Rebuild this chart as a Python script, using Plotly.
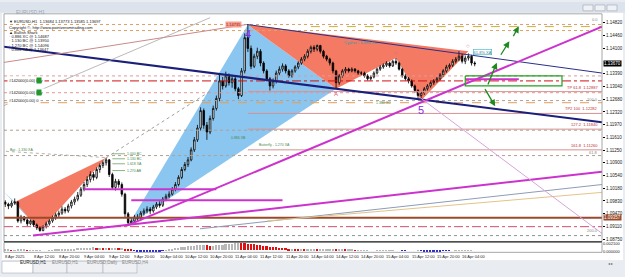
import plotly.graph_objects as go

W, H = 625, 277

# ---------------- data ----------------
bar_index = list(range(3, 153))
close = [1.0974,1.0969,1.0977,1.0980,1.0927,1.0938,1.0930,1.0919,1.0927,1.0916,1.0908,1.0900,1.0911,1.0919,1.0927,1.0936,1.0944,1.0949,1.0960,1.0955,1.0969,
         1.0980,1.0988,1.0999,1.1016,1.1029,1.1043,1.1057,1.1049,1.1071,1.1082,1.1090,1.1098,1.1057,1.1021,1.1038,1.1029,1.1002,1.0947,1.0922,1.0927,1.0938,1.0933,1.0949,1.0955,
         1.0960,1.0955,1.0966,1.0974,1.0971,1.0988,1.0996,1.1002,1.1016,1.1029,1.1049,1.1071,1.1085,1.1098,1.1126,1.1154,1.1187,1.1236,1.1195,1.1176,1.1214,1.1242,1.1270,1.1319,
         1.1305,1.1333,1.1314,1.1325,1.1297,1.1278,1.1347,1.1440,1.1410,1.1360,1.1388,1.1402,1.1369,1.1347,1.1325,1.1305,1.1319,1.1341,1.1352,1.1361,1.1347,1.1333,1.1347,1.1358,
         1.1369,1.1380,1.1388,1.1402,1.1413,1.1408,1.1418,1.1402,1.1388,1.1380,1.1369,1.1347,1.1314,1.1333,1.1347,1.1352,1.1347,1.1352,1.1347,1.1341,1.1341,1.1333,1.1325,1.1330,
         1.1341,1.1352,1.1358,1.1363,1.1369,1.1361,1.1374,1.1369,1.1352,1.1333,1.1325,1.1319,1.1305,1.1292,1.1278,1.1286,1.1297,1.1305,1.1314,1.1319,1.1325,1.1336,1.1347,1.1358,
         1.1363,1.1374,1.1380,1.1388,1.1374,1.1383,1.1388,1.1369,1.1367]
high = [1.0985,1.0978,1.0984,1.0990,1.0983,1.0944,1.0941,1.0934,1.0931,1.0930,1.0920,1.0912,1.0915,1.0925,1.0932,1.0942,1.0950,1.0956,1.0968,1.0966,1.0975,
        1.0986,1.0995,1.1008,1.1022,1.1036,1.1052,1.1066,1.1064,1.1077,1.1088,1.1096,1.1104,1.1100,1.1062,1.1045,1.1044,1.1035,1.1006,1.0952,1.0936,1.0944,1.0946,1.0955,1.0962,
        1.0968,1.0966,1.0972,1.0980,1.0982,1.0994,1.1003,1.1010,1.1022,1.1036,1.1055,1.1078,1.1092,1.1106,1.1133,1.1162,1.1196,1.1245,1.1242,1.1204,1.1222,1.1250,1.1278,1.1340,
        1.1330,1.1345,1.1340,1.1336,1.1330,1.1302,1.1355,1.1452,1.1476,1.1418,1.1395,1.1412,1.1408,1.1374,1.1352,1.1330,1.1326,1.1348,1.1360,1.1368,1.1366,1.1352,1.1352,1.1363,
        1.1374,1.1386,1.1394,1.1408,1.1418,1.1419,1.1421,1.1420,1.1406,1.1392,1.1384,1.1373,1.1350,1.1338,1.1352,1.1358,1.1356,1.1357,1.1355,1.1350,1.1346,1.1345,1.1338,1.1335,
        1.1346,1.1356,1.1363,1.1368,1.1374,1.1373,1.1378,1.1383,1.1373,1.1356,1.1338,1.1330,1.1323,1.1309,1.1296,1.1290,1.1302,1.1310,1.1318,1.1324,1.1330,1.1341,1.1352,1.1364,
        1.1368,1.1380,1.1386,1.1402,1.1395,1.1390,1.1396,1.1392,1.1374]
low = [1.0966,1.0960,1.0964,1.0972,1.0922,1.0920,1.0925,1.0913,1.0915,1.0910,1.0902,1.0897,1.0898,1.0906,1.0914,1.0922,1.0930,1.0938,1.0944,1.0948,1.0950,
       1.0962,1.0972,1.0982,1.0994,1.1010,1.1022,1.1035,1.1040,1.1044,1.1062,1.1075,1.1082,1.1050,1.1015,1.1012,1.1020,1.0995,1.0938,1.0914,1.0916,1.0922,1.0925,1.0928,1.0942,
       1.0948,1.0946,1.0950,1.0960,1.0964,1.0966,1.0982,1.0990,1.0998,1.1010,1.1024,1.1044,1.1066,1.1078,1.1094,1.1120,1.1148,1.1180,1.1185,1.1154,1.1170,1.1208,1.1236,1.1262,
       1.1295,1.1300,1.1306,1.1300,1.1290,1.1268,1.1274,1.1340,1.1400,1.1352,1.1355,1.1380,1.1360,1.1340,1.1318,1.1292,1.1298,1.1312,1.1335,1.1345,1.1340,1.1328,1.1328,1.1342,
       1.1352,1.1364,1.1374,1.1382,1.1396,1.1400,1.1402,1.1396,1.1382,1.1374,1.1362,1.1340,1.1297,1.1308,1.1328,1.1340,1.1342,1.1343,1.1342,1.1336,1.1335,1.1328,1.1320,1.1320,
       1.1326,1.1337,1.1347,1.1353,1.1358,1.1356,1.1358,1.1364,1.1348,1.1328,1.1320,1.1312,1.1300,1.1286,1.1270,1.1264,1.1280,1.1292,1.1300,1.1308,1.1314,1.1320,1.1330,1.1342,
       1.1352,1.1358,1.1368,1.1374,1.1368,1.1366,1.1376,1.1362,1.1360]
first_open = 1.0980
open_ = [first_open] + close[:-1]

osc = [0.0002,0.0002,0.0001,0.0001,0.0002,0.0002,0.0002,0.0001,0.0001,0.0001,0.0001,0.0001,0.0000,0.0000,0.0001,0.0001,0.0002,0.0002,0.0003,0.0003,
       0.0004,0.0005,0.0005,0.0006,0.0006,0.0007,0.0007,0.0008,0.0009,0.0008,0.0008,0.0007,0.0007,0.0006,0.0006,0.0007,0.0006,0.0006,0.0005,0.0004,
       0.0002,-0.0001,-0.0002,-0.0003,-0.0003,-0.0003,-0.0002,-0.0002,-0.0003,-0.0002,-0.0001,0.0001,0.0003,0.0005,0.0007,0.0008,0.0010,0.0011,0.0012,0.0013,
       0.0014,0.0015,0.0016,0.0016,0.0015,0.0014,0.0014,0.0015,0.0016,0.0016,0.0017,0.0017,0.0018,0.0020,0.0022,0.0021,0.0020,0.0019,0.0018,0.0017,
       0.0016,0.0015,0.0014,0.0012,0.0011,0.0010,0.0009,0.0008,0.0007,0.0006,0.0005,0.0005,0.0004,0.0003,0.0003,0.0002,0.0002,0.0003,0.0003,0.0002,
       0.0003,0.0003,0.0004,0.0004,0.0004,0.0003,0.0003,0.0003,0.0002,0.0002,0.0002,0.0001,0.0001,0.0001,0.0001,0.0001,0.0000,0.0000,0.0001,0.0001,
       0.0001,0.0001,0.0001,0.0001,0.0000,0.0000,-0.0001,-0.0001,0.0000,0.0000,0.0000,0.0001,-0.0001,-0.0002,-0.0002,-0.0002,-0.0002,-0.0002,-0.0002,-0.0001,
       -0.0001,-0.0001,0.0000,0.0001,0.0001,0.0001,0.0001,0.0001,0.0001,0.0000]

price_ticks = [1.14820,1.14460,1.14100,1.13390,1.13040,1.12680,1.12320,1.11970,
               1.11610,1.11250,1.10900,1.10540,1.10180,1.09830,1.09470,1.09110,1.08750]
time_tick_index = [3,12,20,28,36,44,52,60,68,76,84,92,100,108,116,124,132,140,148]
time_tick_text = ["8 Apr 2025","8 Apr 12:00","8 Apr 20:00","9 Apr 04:00","9 Apr 12:00","9 Apr 20:00",
                  "10 Apr 04:00","10 Apr 12:00","10 Apr 20:00","11 Apr 04:00","11 Apr 12:00","11 Apr 20:00",
                  "14 Apr 04:00","14 Apr 12:00","14 Apr 20:00","15 Apr 04:00","15 Apr 12:00","15 Apr 20:00","16 Apr 04:00"]

# harmonic pattern points (bar index, price)
right_x = [42, 80, 108, 127, 135, 150]
right_p = [1.0914, 1.1476, 1.1297, 1.1383, 1.1264, 1.1402]
left_x = [2.6, 6, 14, 35]
left_p = [1.1008, 1.0980, 1.0900, 1.1104]

# trend lines: (x0, p0, x1, p1, color, width, dash)
trend_lines = [
    (1.3, 1.1416, 192.4, 1.1203, "#1a1f7a", 2, "solid"),
    (79.7, 1.1477, 192.4, 1.1341, "#2a2f8a", 1, "solid"),
    (41.6, 1.0914, 192.4, 1.1471, "#cc33cc", 2, "solid"),
    (11.8, 1.0886, 192.4, 1.1065, "#cc33cc", 2, "solid"),
    (64.8, 1.0905, 192.4, 1.1029, "#8d9cb8", 1, "solid"),
    (86.1, 1.0927, 192.4, 1.1007, "#e3c488", 1, "solid"),
    (134.7, 1.1272, 192.4, 1.0892, "#d9a3dc", 1, "solid"),
    (1.3, 1.1369, 79.7, 1.1477, "#c98a8a", 1, "solid"),
    (35, 1.1104, 68, 1.1290, "#a0a0a0", 1, "dot"),
    (1.3, 1.1245, 68, 1.1496, "#a8a8a8", 0.8, "solid"),
    (1.3, 1.1123, 35.6, 1.1104, "#a0a0a0", 0.8, "dot"),
]
# horizontal levels: (price, x_start, x_end, color, width, dash)
h_levels = [
    (1.1319, 2.6, 192.4, "#d01010", 1, "dashdot"),
    (1.1333, 2.6, 192.4, "#e09a9a", 1, "dot"),
    (1.1286, 2.6, 192.4, "#e09a9a", 1, "dot"),
    (1.1477, 2.6, 192.4, "#e0a060", 1, "dot"),
    (1.1471, 100, 192.4, "#c8b040", 1, "dash"),
    (1.1460, 2.6, 192.4, "#e0a060", 1, "dot"),
    (1.1289, 80, 192.4, "#d89090", 1, "solid"),
    (1.1228, 80, 192.4, "#d89090", 1, "solid"),
    (1.1184, 80, 192.4, "#d89090", 1, "solid"),
    (1.1126, 80, 192.4, "#d89090", 1, "solid"),
    (1.1264, 2.6, 192.4, "#b0a090", 1, "dot"),
    (1.1258, 2.6, 192.4, "#e0a060", 1, "dash"),
    (1.1181, 2.6, 192.4, "#b0a090", 1, "dot"),
    (1.1110, 2.6, 192.4, "#b0a090", 1, "dot"),
    (1.0886, 2.6, 192.4, "#909090", 1, "dot"),
    (1.0936, 2.6, 192.4, "#9a4a2a", 2, "solid"),
    (1.0911, 2.6, 192.4, "#d05070", 1, "dashdot"),
    (1.1016, 28, 70, "#cc33cc", 2, "solid"),
    (1.0985, 43, 91, "#cc33cc", 2, "solid"),
    (1.1324, 149, 166, "#cc33cc", 2, "solid"),
]
# small level tags on the left pattern (bar index, price, text)
left_tags = [(37, 1.1115, "1.000 BC"), (37, 1.1101, "1.130 BC"), (37, 1.1087, "1.618 XA"), (37, 1.1068, "1.270 AB")]
fib_tags = [(1.1479, "0.0"), (1.1255, "100.0"), (1.1107, "61.8"), (1.0889, "200.0")]
pattern_notes = [(83, 1.1140, "Butterfly - 1.270 XA"), (74, 1.1160, "0.886 XB"), (120, 1.1256, "1.380 XC"),
                 (4, 1.1127, "Bat - 1.330 XA")]

# ---------------- figure ----------------
fig = go.Figure()

def px_x(x):
    return x / W

def px_y(y):
    return 1 - y / H

def poly_path(xs, ps):
    pts = ["%s%.4f,%.5f" % ("M" if k == 0 else "L", a, b) for k, (a, b) in enumerate(zip(xs, ps))]
    return " ".join(pts) + " Z"

shapes = []
shapes.append(dict(type="rect", xref="paper", yref="paper", x0=px_x(2), x1=px_x(623), y0=px_y(262), y1=px_y(11),
                   fillcolor="#ffffff", line=dict(width=0), layer="below"))
shapes.append(dict(type="path", xref="x", yref="y", layer="below", fillcolor="#8ac6f0", line=dict(width=0),
                   path=poly_path(right_x[0:3], right_p[0:3])))
shapes.append(dict(type="path", xref="x", yref="y", layer="below", fillcolor="#f47a64", line=dict(width=0),
                   path=poly_path(right_x[1:6], right_p[1:6])))
shapes.append(dict(type="path", xref="x", yref="y", layer="below", fillcolor="#8ac6f0", line=dict(width=0),
                   path=poly_path(left_x[0:3], left_p[0:3])))
shapes.append(dict(type="path", xref="x", yref="y", layer="below", fillcolor="#f47a64", line=dict(width=0),
                   path=poly_path(left_x[1:4], left_p[1:4])))

for (p, xa, xb, c, w, d) in h_levels:
    fig.add_trace(go.Scatter(x=[xa, xb], y=[p, p], mode="lines",
                             line=dict(color=c, width=w, dash=d), hoverinfo="skip", showlegend=False))
for (xa, pa, xb, pb, c, w, d) in trend_lines:
    fig.add_trace(go.Scatter(x=[xa, xb], y=[pa, pb], mode="lines",
                             line=dict(color=c, width=w, dash=d), hoverinfo="skip", showlegend=False))
for (xa, pa, t) in left_tags:
    fig.add_trace(go.Scatter(x=[xa, xa + 4], y=[pa, pa], mode="lines",
                             line=dict(color="#6aa06a", width=0.8), hoverinfo="skip", showlegend=False))

fig.add_trace(go.Scatter(x=[149, 179.7, 179.7, 149, 149], y=[1.1333, 1.1333, 1.1305, 1.1305, 1.1333],
                         mode="lines", line=dict(color="#20a020", width=1.2), hoverinfo="skip", showlegend=False))

fig.add_trace(go.Candlestick(x=bar_index, open=open_, high=high, low=low, close=close,
                             increasing=dict(line=dict(color="#000000", width=0.8), fillcolor="#ffffff"),
                             decreasing=dict(line=dict(color="#000000", width=0.8), fillcolor="#000000"),
                             whiskerwidth=0, hoverinfo="skip", showlegend=False))

osc_colors = []
for k, v in enumerate(osc):
    prev = osc[k - 1] if k > 0 else v
    if v < 0:
        osc_colors.append("#2a2ad0")
    elif v < prev:
        osc_colors.append("#e01010")
    else:
        osc_colors.append("#b8b8b8")
fig.add_trace(go.Bar(x=bar_index, y=osc, marker=dict(color=osc_colors, line=dict(width=0)),
                     width=0.55, xaxis="x2", yaxis="y2", hoverinfo="skip", showlegend=False))

FONT = "Liberation Sans Narrow, Liberation Sans, Arial"
ydom = [px_y(243), px_y(12)]
fig.update_layout(
    width=W, height=H, margin=dict(l=0, r=0, t=0, b=0),
    paper_bgcolor="#e9ecf1", plot_bgcolor="#ffffff",
    font=dict(family=FONT, size=5, color="#000000"),
    xaxis=dict(domain=[px_x(4), px_x(602)], range=[2.6, 192.4], showgrid=False, zeroline=False,
               showticklabels=False, rangeslider=dict(visible=False), fixedrange=True),
    yaxis=dict(domain=ydom, range=[1.08695, 1.15068], side="right", showgrid=False, zeroline=False,
               tickvals=price_ticks, ticktext=["%.5f" % v for v in price_ticks],
               ticks="outside", ticklen=2, tickcolor="#000", tickfont=dict(size=4.5, color="#222", family=FONT)),
    xaxis2=dict(domain=[px_x(4), px_x(602)], range=[2.6, 192.4], anchor="y2", showgrid=False,
                zeroline=False, showticklabels=False),
    yaxis2=dict(domain=[px_y(254), px_y(244)], range=[-0.0004, 0.0024], side="right", anchor="x2",
                showgrid=False, zeroline=False, tickvals=[0.0021, -0.0003], ticktext=["0.002100", "0.000000"],
                tickfont=dict(size=4, color="#222", family=FONT)),
    bargap=0,
)

shapes.append(dict(type="rect", xref="paper", yref="paper", x0=0, x1=1, y0=px_y(11), y1=1,
                   fillcolor="#dde3ec", line=dict(width=0), layer="below"))
for bx in (583, 595, 607):
    shapes.append(dict(type="rect", xref="paper", yref="paper", x0=px_x(bx), x1=px_x(bx + 10),
                       y0=px_y(9), y1=px_y(3), fillcolor="#eef1f5", line=dict(color="#9aa4b0", width=0.6)))
shapes.append(dict(type="rect", xref="paper", yref="paper", x0=px_x(4), x1=px_x(602), y0=px_y(243), y1=px_y(12),
                   line=dict(color="#909090", width=0.8)))
shapes.append(dict(type="line", xref="paper", yref="paper", x0=px_x(4), x1=px_x(602), y0=px_y(243.5), y1=px_y(243.5),
                   line=dict(color="#303030", width=1.5)))
shapes.append(dict(type="rect", xref="paper", yref="paper", x0=px_x(4), x1=px_x(602), y0=px_y(254), y1=px_y(244),
                   line=dict(color="#909090", width=0.8)))
shapes.append(dict(type="rect", xref="paper", yref="paper", x0=0, x1=1, y0=0, y1=px_y(262),
                   fillcolor="#e9ecf1", line=dict(width=0)))
tabs = [(2, 33, "EURUSD,H1", True), (33, 67, "EURUSD,H1", False), (67, 103, "EURUSD,Daily", False),
        (103, 137, "EURUSD,H4", False)]
for (a, b, t, act) in tabs:
    shapes.append(dict(type="rect", xref="paper", yref="paper", x0=px_x(a), x1=px_x(b), y0=px_y(275), y1=px_y(263),
                       fillcolor="#ffffff" if act else "#eef0f3", line=dict(color="#a8b0ba", width=0.6)))
fig.update_layout(shapes=shapes)

ann = []
for k, t in zip(time_tick_index, time_tick_text):
    ann.append(dict(x=k, y=px_y(258), xref="x", yref="paper", text=t, showarrow=False, xanchor="left",
                    yanchor="middle", xshift=-2, font=dict(size=4, color="#222")))
for (a, b, t, act) in tabs:
    ann.append(dict(x=px_x((a + b) / 2), y=px_y(269), xref="paper", yref="paper", text=t, showarrow=False,
                    font=dict(size=4.5, color="#222" if act else "#888")))
ann.append(dict(x=px_x(14), y=px_y(5), xref="paper", yref="paper", text="EURUSD,H1", showarrow=False,
                xanchor="left", font=dict(size=5, color="#9aa4b0")))
ann.append(dict(x=px_x(606), y=px_y(270), xref="paper", yref="paper", text="◂ ▸", showarrow=False,
                xanchor="left", font=dict(size=4, color="#666")))
ann.append(dict(x=px_x(603), y=close[-1], xref="paper", yref="y", text="%.5f" % close[-1], showarrow=False,
                xanchor="left", bgcolor="#000000", font=dict(size=4.5, color="#ffffff"), borderpad=0))
ann.append(dict(x=px_x(603), y=1.0936, xref="paper", yref="y", text="1.09357", showarrow=False,
                xanchor="left", bgcolor="#9a4a2a", font=dict(size=4.5, color="#ffffff"), borderpad=0))
header = ["▼ EURUSD,H1  1.13684 1.13773 1.13585 1.13697",
          "Copyright ©, http://www.pointzeromtrading.com",
          "▲ Bullish Shark",
          "· 0.886 XC @ 1.14687",
          "· 1.130 BC @ 1.13950",
          "· 1.270 BC @ 1.14096",
          "· 0.886 XA @ 1.13647"]
hy = [15, 21, 26, 30, 35, 40, 44]
for t, yy in zip(header, hy):
    ann.append(dict(x=px_x(7), y=px_y(yy), xref="paper", yref="paper", text=t, showarrow=False,
                    xanchor="left", font=dict(size=4, color="#111")))
for p, t, g in [(1.1319, "#142000(0.00) buy", True), (1.1286, "#142000(0.00) buy", True),
                (1.1264, "#142000(0.00) 0", False)]:
    ann.append(dict(x=px_x(7), y=p, xref="paper", yref="y", text=t, showarrow=False,
                    xanchor="left", yanchor="middle", bgcolor="#ffffff", font=dict(size=4, color="#111")))
    if g:
        ann.append(dict(x=px_x(36), y=p, xref="paper", yref="y", text="&nbsp;&nbsp;&nbsp;&nbsp;", showarrow=False,
                        xanchor="left", yanchor="middle", bgcolor="#1f9a2a", font=dict(size=4, color="#1f9a2a"),
                        borderpad=0))
for (xa, pa, t) in left_tags:
    ann.append(dict(x=xa + 4, y=pa, text=t, showarrow=False, xanchor="left", yanchor="middle",
                    font=dict(size=3.5, color="#4a8a4a")))
for (xa, pa, t) in pattern_notes:
    ann.append(dict(x=xa, y=pa, text=t, showarrow=False, xanchor="left", yanchor="middle",
                    font=dict(size=3.5, color="#4a8a4a")))
for p, t in fib_tags:
    ann.append(dict(x=px_x(600), y=p, xref="paper", yref="y", text=t, showarrow=False, xanchor="right",
                    yanchor="bottom", font=dict(size=4, color="#888")))
ann.append(dict(x=80, y=1.1476, text="4", showarrow=False, yanchor="top", yshift=-1,
                font=dict(size=11, color="#8a2be2", family="Liberation Sans")))
ann.append(dict(x=135, y=1.1264, text="5", showarrow=False, yanchor="top", yshift=-1,
                font=dict(size=11, color="#8a2be2", family="Liberation Sans")))
ann.append(dict(x=108, y=1.1297, text="A", showarrow=False, yanchor="top", font=dict(size=6, color="#e06080")))
ann.append(dict(x=127, y=1.1383, text="○", showarrow=False, yanchor="bottom", font=dict(size=6, color="#e06080")))
ann.append(dict(x=150, y=1.1402, text="○", showarrow=False, yanchor="bottom", font=dict(size=6, color="#e06080")))
ann.append(dict(x=78, y=1.1476, text="1.14735", showarrow=False, xanchor="right", bgcolor="#f4a090",
                font=dict(size=4, color="#a01010"), borderpad=0))
ann.append(dict(x=110, y=1.1427, text="Cypher - 0.886 XC", showarrow=False, xanchor="left",
                font=dict(size=4, color="#3a9aa0")))
ann.append(dict(x=151.5, y=1.1399, text="61.8% XA", showarrow=False, xanchor="left", bordercolor="#3ab0c0",
                borderwidth=0.6, borderpad=0, font=dict(size=4, color="#2a8aa0")))
levels_txt = [(1.1289, "TP 61.8  1.12887"), (1.1228, "TP2 100  1.12282"), (1.1184, "127.2  1.11840"),
              (1.1126, "161.8  1.11260")]
for p, t in levels_txt:
    ann.append(dict(x=px_x(600), y=p, xref="paper", yref="y", text=t, showarrow=False, xanchor="right",
                    yanchor="bottom", font=dict(size=4, color="#c03030")))
for (x0, p0, x1, p1) in [(156, 1.1305, 159, 1.1370), (160, 1.1388, 163, 1.1430), (164, 1.1440, 166, 1.1472),
                         (155, 1.1300, 158.5, 1.1248)]:
    ann.append(dict(x=x1, y=p1, ax=x0, ay=p0, xref="x", yref="y", axref="x", ayref="y", showarrow=True,
                    arrowhead=2, arrowsize=1, arrowwidth=1.3, arrowcolor="#1e8a1e", text=""))
fig.update_layout(annotations=ann)

fig.write_html("out.html")
